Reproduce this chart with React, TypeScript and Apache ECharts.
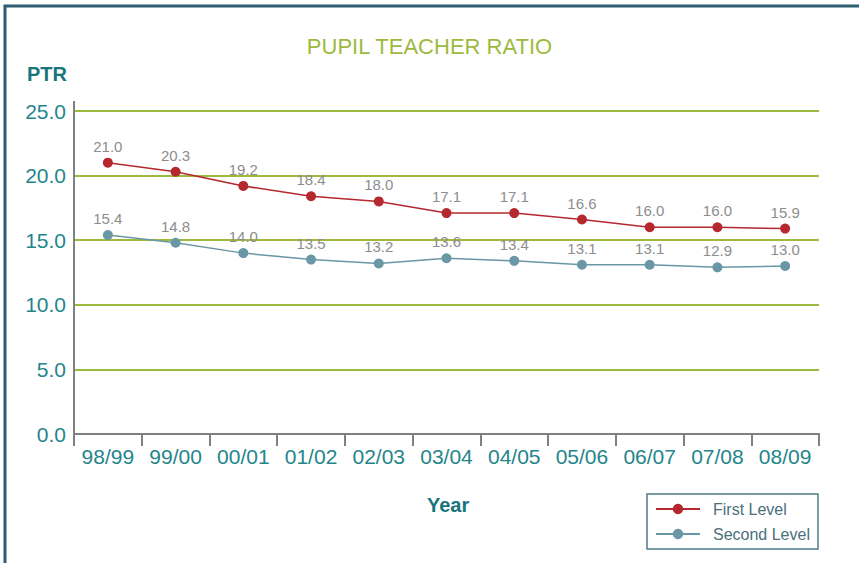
import React, { useEffect, useRef } from "react";
import * as echarts from "echarts";

const years = ["98/99", "99/00", "00/01", "01/02", "02/03", "03/04", "04/05", "05/06", "06/07", "07/08", "08/09"];
const firstLevel = [21.0, 20.3, 19.2, 18.4, 18.0, 17.1, 17.1, 16.6, 16.0, 16.0, 15.9];
const secondLevel = [15.4, 14.8, 14.0, 13.5, 13.2, 13.6, 13.4, 13.1, 13.1, 12.9, 13.0];
const yTicks = { min: 0, max: 25, interval: 5 };

const FONT = "'Liberation Sans', Arial, Helvetica, sans-serif";
const TEAL = "#24858b";
const RED = "#b5282e";
const BLUE = "#6a97a6";
const OLIVE = "#9dba3e";
const GREY = "#808080";
const LABEL_GREY = "#8d8d8d";

export default function App() {
  const ref = useRef<HTMLDivElement>(null);
  useEffect(() => {
    if (!ref.current) return;
    const chart = echarts.init(ref.current, null, { renderer: "svg" });
    const labelStyle = {
      show: true,
      position: "top",
      distance: 4,
      color: LABEL_GREY,
      fontSize: 15,
      fontFamily: FONT,
      formatter: (p: any) => Number(p.value).toFixed(1),
    };
    chart.setOption({
      animation: false,
      backgroundColor: "#ffffff",
      textStyle: { fontFamily: FONT },
      title: {
        text: "PUPIL TEACHER RATIO",
        left: "center",
        top: 30,
        textStyle: { color: OLIVE, fontSize: 22, fontWeight: "normal", fontFamily: FONT },
      },
      grid: { left: 74, right: 40, top: 111, bottom: 129, containLabel: false },
      legend: {
        orient: "vertical",
        left: 647,
        top: 494,
        padding: [7, 8, 7, 8],
        itemGap: 9,
        itemWidth: 44,
        itemHeight: 13,
        borderColor: "#4f7b87",
        borderWidth: 1.5,
        borderRadius: 0,
        textStyle: { color: "#4b6f7b", fontSize: 16, fontFamily: FONT, padding: [0, 0, 0, 8] },
        data: ["First Level", "Second Level"],
      },
      xAxis: {
        type: "category",
        data: years,
        boundaryGap: true,
        axisLine: { show: true, lineStyle: { color: GREY, width: 2 } },
        axisTick: { show: true, length: 12, lineStyle: { color: GREY, width: 2 } },
        axisLabel: { color: TEAL, fontSize: 21, margin: 12, fontFamily: FONT, interval: 0 },
        splitLine: { show: false },
      },
      yAxis: {
        type: "value",
        min: yTicks.min,
        max: yTicks.max,
        interval: yTicks.interval,
        axisLine: { show: true, lineStyle: { color: GREY, width: 2 } },
        axisTick: { show: false },
        axisLabel: {
          color: TEAL,
          fontSize: 21,
          margin: 8,
          fontFamily: FONT,
          formatter: (v: number) => v.toFixed(1),
        },
        splitLine: { show: true, lineStyle: { color: OLIVE, width: 2 } },
      },
      graphic: [
        {
          type: "rect",
          shape: { x: 5, y: 6, width: 1000, height: 1000 },
          style: { fill: "none", stroke: "#2c5d70", lineWidth: 3 },
          silent: true,
        },
        {
          type: "line",
          shape: { x1: 74, y1: 101, x2: 74, y2: 112 },
          style: { stroke: GREY, lineWidth: 2 },
          silent: true,
        },
        {
          type: "text",
          left: 27,
          top: 64,
          style: { text: "PTR", fill: "#17757b", fontSize: 20, fontWeight: "bold", fontFamily: FONT },
        },
        {
          type: "text",
          left: 427,
          top: 495,
          style: { text: "Year", fill: "#17757b", fontSize: 20, fontWeight: "bold", fontFamily: FONT },
        },
      ],
      series: [
        {
          name: "First Level",
          type: "line",
          data: firstLevel,
          symbol: "circle",
          symbolSize: 10,
          itemStyle: { color: RED },
          lineStyle: { color: RED, width: 1.5 },
          label: labelStyle,
        },
        {
          name: "Second Level",
          type: "line",
          data: secondLevel,
          symbol: "circle",
          symbolSize: 10,
          itemStyle: { color: BLUE },
          lineStyle: { color: BLUE, width: 1.5 },
          label: labelStyle,
        },
      ],
    });
    return () => chart.dispose();
  }, []);
  return (
    <div
      ref={ref}
      style={{ position: "fixed", left: 0, top: 0, width: 859, height: 563, background: "#fff" }}
    />
  );
}
